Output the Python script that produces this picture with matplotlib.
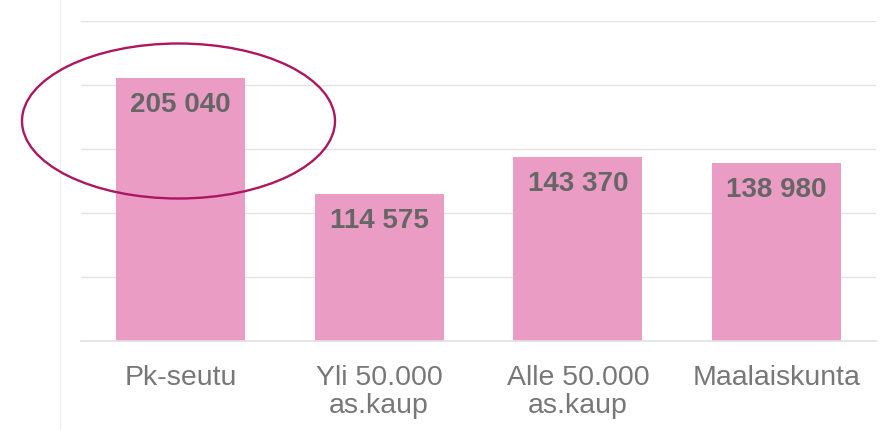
import matplotlib.pyplot as plt
from matplotlib.patches import Ellipse
from matplotlib.lines import Line2D

categories = ["Pk-seutu", "Yli 50.000\nas.kaup", "Alle 50.000\nas.kaup", "Maalaiskunta"]
values = [205040, 114575, 143370, 138980]
value_labels = ["205 040", "114 575", "143 370", "138 980"]

plt.rcParams['font.family'] = ['Liberation Sans', 'DejaVu Sans']

fig = plt.figure(figsize=(8.96, 4.31), dpi=100)
ax = fig.add_axes([81 / 896, 89.5 / 431, 795 / 896, 320 / 431])

x = range(len(categories))
bars = ax.bar(x, values, width=0.65, color='#EB9CC5', zorder=2)

for bar, lab in zip(bars, value_labels):
    ax.annotate(lab, (bar.get_x() + bar.get_width() / 2, bar.get_height()),
                xytext=(0, -19), textcoords='offset points', ha='center', va='center',
                fontsize=20, fontweight='bold', color='#666666', zorder=3)

ax.set_xlim(-0.5, 3.5)
ax.set_ylim(0, 250000)
ax.set_yticks(range(0, 250001, 50000))
ax.set_yticklabels([])
ax.grid(axis='y', color='#E3E3E3', linewidth=1, zorder=0)
ax.set_xticks(list(x))
ax.set_xticklabels(categories, fontsize=20.5, color='#777777', linespacing=1.1)
ax.tick_params(axis='x', length=0, pad=17)
ax.tick_params(axis='y', length=0)
for s in ['top', 'right', 'left']:
    ax.spines[s].set_visible(False)
ax.spines['bottom'].set_color('#E0E0E0')
ax.spines['bottom'].set_linewidth(1.2)

# faint frame line at left
fig.add_artist(Line2D([60 / 896, 60 / 896], [0, 1], transform=fig.transFigure,
                      color='#F0F0F0', linewidth=1))

# highlight ellipse
ell = Ellipse((178.5 / 896, 1 - 122 / 431), 313 / 896, 155 / 431, transform=fig.transFigure,
              fill=False, edgecolor='#AC175F', linewidth=1.7, zorder=5)
fig.add_artist(ell)

fig.savefig('out.png', dpi=100)
